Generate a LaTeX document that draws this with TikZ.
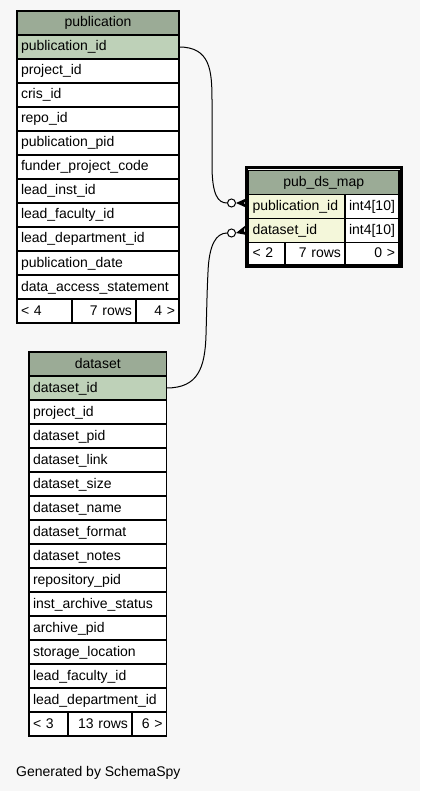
\documentclass[tikz,border=0pt]{standalone}
\usepackage{fontspec}
\setmainfont{Liberation Sans}
\definecolor{hdr}{HTML}{9BAB96}
\definecolor{pkfill}{HTML}{BED1B8}
\definecolor{fkfill}{HTML}{F4F7DA}
\definecolor{bg}{HTML}{F7F7F7}
\begin{document}
\begin{tikzpicture}[x=1pt,y=-1pt,
  txt/.style={font=\fontsize{14}{16}\selectfont},
  cell/.style={txt, draw=black, line width=1.4pt, fill=white, anchor=north west,
    inner xsep=4pt, inner ysep=0pt, outer sep=0pt, minimum height=24pt,
    text height=10pt, text depth=2pt, align=left},
  head/.style={cell, fill=hdr, align=center},
  pkrow/.style={cell, fill=pkfill},
  fkrow/.style={cell, fill=fkfill},
  rcell/.style={cell, align=right},
  link/.style={draw=black, line width=1pt},
  ring/.style={circle, draw=black, line width=1pt, fill=white, minimum size=8pt, inner sep=0pt},
  crow/.pic={\fill[black] (0,0) -- (11,-5) -- (8,0) -- (11,5) -- cycle;},
  tblframe/.style={draw=black, line width=3pt, anchor=north west, inner sep=0pt, outer sep=0pt}
]
% canvas
\fill[bg] (0,0) rectangle (420,791);
\useasboundingbox (0,0) rectangle (420,791);

% ---- publication ----
\node[head, minimum width=162pt, text width=154pt] (pub-h) at (17,11) {publication};
\node[pkrow, minimum width=162pt, text width=154pt] (pub-pk) at (17,35) {publication\_id};
\foreach \t [count=\i] in {project\_id, cris\_id, repo\_id, publication\_pid,
    funder\_project\_code, lead\_inst\_id, lead\_faculty\_id, lead\_department\_id,
    publication\_date, data\_access\_statement}
  \node[cell, minimum width=162pt, text width=154pt] (pub-r\i) at (17,{35+24*\i}) {\t};
\node[cell, minimum width=55pt, text width=47pt] (pub-f1) at (17,299) {< 4};
\node[rcell, minimum width=64pt, text width=56pt] (pub-f2) at (72,299) {7 rows};
\node[rcell, minimum width=43pt, text width=35pt] (pub-f3) at (136,299) {4 >};

% ---- dataset ----
\node[head, minimum width=137.5pt, text width=129.5pt] (ds-h) at (29,352) {dataset};
\node[pkrow, minimum width=137.5pt, text width=129.5pt] (ds-pk) at (29,376) {dataset\_id};
\foreach \t [count=\i] in {project\_id, dataset\_pid, dataset\_link, dataset\_size,
    dataset\_name, dataset\_format, dataset\_notes, repository\_pid,
    inst\_archive\_status, archive\_pid, storage\_location, lead\_faculty\_id,
    lead\_department\_id}
  \node[cell, minimum width=137.5pt, text width=129.5pt] (ds-r\i) at (29,{376+24*\i}) {\t};
\node[cell, minimum width=39pt, text width=31pt] (ds-f1) at (29,712) {< 3};
\node[rcell, minimum width=64pt, text width=56pt] (ds-f2) at (68,712) {13 rows};
\node[rcell, minimum width=34.5pt, text width=26.5pt] (ds-f3) at (132,712) {6 >};

% ---- pub_ds_map ----
\node[tblframe, minimum width=155pt, minimum height=98.5pt] (map) at (246,168) {};
\node[head, minimum width=150.5pt, text width=142.5pt] (map-h) at (248.5,170.5) {pub\_ds\_map};
\node[fkrow, minimum width=96.5pt, text width=88.5pt] (map-k1) at (248.5,194.5) {publication\_id};
\node[cell, minimum width=54pt, text width=46pt] (map-t1) at (345,194.5) {int4[10]};
\node[fkrow, minimum width=96.5pt, text width=88.5pt] (map-k2) at (248.5,218.5) {dataset\_id};
\node[cell, minimum width=54pt, text width=46pt] (map-t2) at (345,218.5) {int4[10]};
\node[cell, minimum width=36.5pt, text width=28.5pt, minimum height=22pt] (map-f1) at (248.5,242.5) {< 2};
\node[rcell, minimum width=60pt, text width=52pt, minimum height=22pt] (map-f2) at (285,242.5) {7 rows};
\node[rcell, minimum width=54pt, text width=46pt, minimum height=22pt] (map-f3) at (345,242.5) {0 >};

% ---- relationships (zero-or-many ends) ----
\node[ring] (o1) at (231.5,203) {};
\node[ring] (o2) at (231.5,233) {};
\draw[link] (pub-pk.east) .. controls (210,47) and (212,70) .. (212,100)
  -- (212,165) .. controls (212,195) and (218,203) .. (o1.west);
\draw[link] (ds-pk.east) .. controls (198,388) and (205,368) .. (206,335)
  .. controls (207,300) and (207,292) .. (208,272)
  .. controls (209,245) and (216,233) .. (o2.west);
\pic at (o1.east) {crow};
\pic[rotate=14] at (o2.east) {crow};

\node[txt, anchor=base west, inner sep=0pt] (credit) at (16,776) {Generated by SchemaSpy};
\end{tikzpicture}
\end{document}
